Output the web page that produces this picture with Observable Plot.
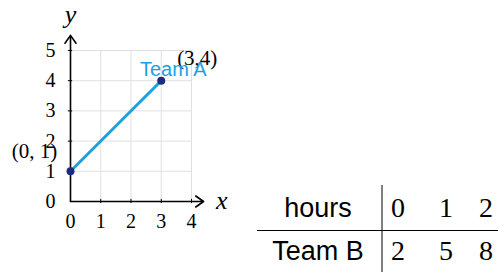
<!DOCTYPE html>
<html>
<head>
<meta charset="utf-8">
<script src="https://cdn.jsdelivr.net/npm/d3@7"></script>
<script src="https://cdn.jsdelivr.net/npm/@observablehq/plot@0.6"></script>
<style>
  html, body { margin: 0; padding: 0; background: #fff; }
  #wrap { position: relative; width: 498px; height: 272px; overflow: hidden; }
  #wrap svg { position: absolute; left: 0; top: 0; }
</style>
</head>
<body>
<div id="wrap"></div>
<script>
// Team A line (graph)
const teamAX = [0, 3];
const teamAY = [1, 4];
const pointLabels = ["(0, 1)", "(3,4)"];
const seriesName = "Team A";
// axes
const xTicks = [0, 1, 2, 3, 4];
const yTicks = [0, 1, 2, 3, 4, 5];
// table
const tableRowLabels = ["hours", "Team B"];
const hours = [0, 1, 2];
const teamB = [2, 5, 8];

const serif = "'Liberation Serif', 'DejaVu Serif', serif";
const sans = "'Liberation Sans', Arial, sans-serif";

const pts = teamAX.map((x, i) => ({x, y: teamAY[i], label: pointLabels[i]}));

const chart = Plot.plot({
  width: 498,
  height: 272,
  marginLeft: 70,
  marginRight: 307,
  marginTop: 50,
  marginBottom: 71,
  x: {domain: [0, 4], axis: null},
  y: {domain: [0, 5], axis: null},
  style: {background: "transparent", overflow: "visible"},
  marks: [
    // grid
    Plot.ruleX(xTicks.slice(1), {x: d => d, y1: 0, y2: 5, stroke: "#e0e0e0", strokeWidth: 1}),
    Plot.ruleY(yTicks.slice(1), {y: d => d, x1: 0, x2: 4, stroke: "#e0e0e0", strokeWidth: 1}),
    // axes with arrows
    Plot.arrow([0], {x1: 0, y1: 0, x2: 4.4, y2: 0, stroke: "#000", strokeWidth: 1.6, headLength: 9, headAngle: 70}),
    Plot.arrow([0], {x1: 0, y1: 0, x2: 0, y2: 5.5, stroke: "#000", strokeWidth: 1.6, headLength: 9, headAngle: 70}),
    // tick marks
    Plot.ruleX(xTicks.slice(1), {x: d => d, y1: -0.07, y2: 0.07, stroke: "#000", strokeWidth: 1}),
    Plot.ruleY(yTicks.slice(1), {y: d => d, x1: -0.07, x2: 0.07, stroke: "#000", strokeWidth: 1}),
    // tick labels
    Plot.text(xTicks, {x: d => d, y: 0, dy: 20, text: d => String(d), fontFamily: serif, fontSize: 20, fill: "#000"}),
    Plot.text(yTicks, {x: 0, y: d => d, dx: -20, text: d => String(d), fontFamily: serif, fontSize: 20, fill: "#000"}),
    // axis names
    Plot.text(["x"], {x: 5.0, y: 0, dy: -1, text: d => d, fontFamily: serif, fontStyle: "italic", fontSize: 26, fill: "#000"}),
    Plot.text(["y"], {x: 0, y: 6.2, text: d => d, fontFamily: serif, fontStyle: "italic", fontSize: 26, fill: "#000"}),
    // Team A line
    Plot.line(pts, {x: "x", y: "y", stroke: "#1ba1e2", strokeWidth: 3}),
    Plot.dot(pts, {x: "x", y: "y", r: 4, fill: "#1c2a80", stroke: "none"}),
    // labels
    Plot.text([pts[0]], {x: "x", y: "y", dx: -36, dy: -20, text: "label", fontFamily: serif, fontSize: 21, fill: "#000"}),
    Plot.text([pts[1]], {x: "x", y: "y", dx: 36, dy: -22, text: "label", fontFamily: serif, fontSize: 21, fill: "#000"}),
    Plot.text([pts[1]], {x: "x", y: "y", dx: 12, dy: -11, text: () => seriesName, fontFamily: sans, fontSize: 20, fill: "#1ba1e2"})
  ]
});
document.getElementById("wrap").appendChild(chart);

// table overlay
const svg = d3.select("#wrap").append("svg")
  .attr("width", 498).attr("height", 272);
const colX = [398, 446, 486];
const rowBase = [217, 260];
const rows = [hours, teamB];
svg.append("line").attr("x1", 382).attr("x2", 382).attr("y1", 185).attr("y2", 272)
  .attr("stroke", "#000").attr("stroke-width", 1);
svg.append("line").attr("x1", 257).attr("x2", 498).attr("y1", 230.5).attr("y2", 230.5)
  .attr("stroke", "#000").attr("stroke-width", 1.2);
tableRowLabels.forEach((lab, r) => {
  svg.append("text").attr("x", 318).attr("y", rowBase[r]).attr("text-anchor", "middle")
    .attr("font-family", sans).attr("font-size", 27).text(lab);
  rows[r].forEach((v, c) => {
    svg.append("text").attr("x", colX[c]).attr("y", rowBase[r]).attr("text-anchor", "middle")
      .attr("font-family", serif).attr("font-size", 28).text(String(v));
  });
});
</script>
</body>
</html>
